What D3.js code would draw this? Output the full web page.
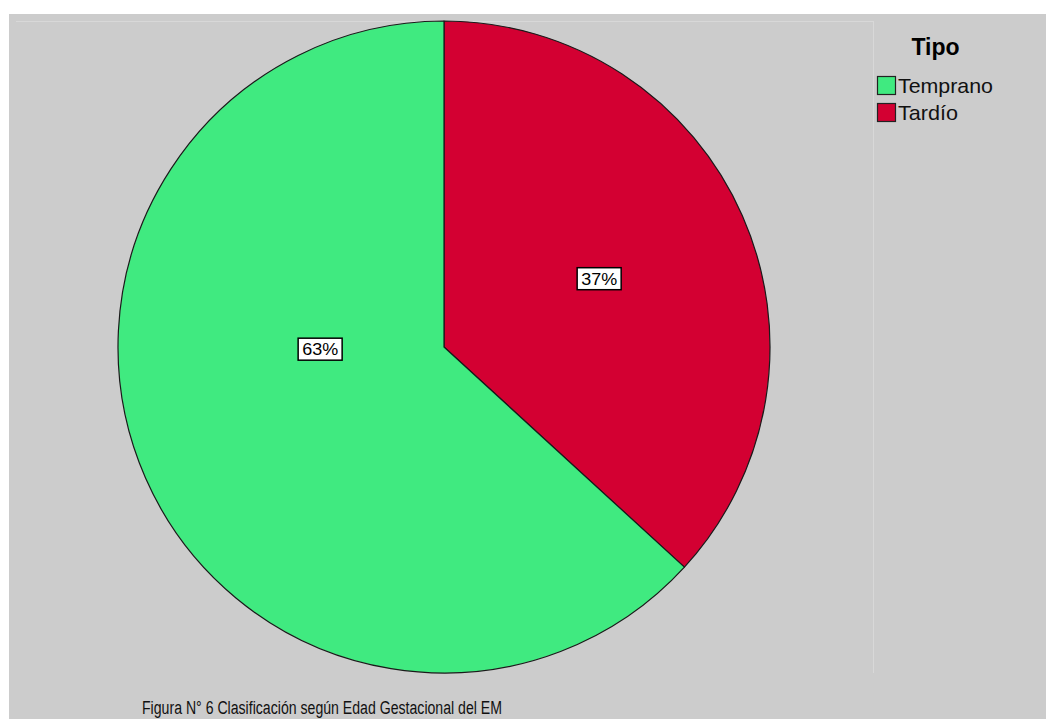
<!DOCTYPE html>
<html>
<head>
<meta charset="utf-8">
<script src="https://cdn.jsdelivr.net/npm/d3@7"></script>
<style>
html,body{margin:0;padding:0;background:#fff;}
svg{display:block;}
</style>
</head>
<body>
<svg id="chart" width="1046" height="719"></svg>
<script>
// ---- data ----
const categories = ["Temprano", "Tardío"];
const values = [63.2, 36.8];
const labels = ["63%", "37%"];
const colors = ["#40EA80", "#D30032"];
const legendTitle = "Tipo";
const caption = "Figura N° 6 Clasificación según Edad Gestacional del EM";

// ---- layout ----
const W = 1046, H = 719;
const svg = d3.select("#chart");
svg.append("rect").attr("x", 9).attr("y", 14).attr("width", W - 9).attr("height", H - 14).attr("fill", "#CCCCCC");
// light frame lines (top and right)
svg.append("line").attr("x1", 16).attr("x2", 874).attr("y1", 21.5).attr("y2", 21.5).attr("stroke", "#D8D8D8").attr("stroke-width", 1);
svg.append("line").attr("x1", 873.5).attr("x2", 873.5).attr("y1", 21).attr("y2", 673).attr("stroke", "#D8D8D8").attr("stroke-width", 1);

const cx = 444, cy = 347, R = 326;
const g = svg.append("g").attr("transform", `translate(${cx},${cy})`);

// Tardío starts at 12 o'clock going clockwise; Temprano fills the rest
const order = [1, 0];
const pie = d3.pie().sort(null).value(i => values[i]);
const arcs = pie(order);
const arc = d3.arc().innerRadius(0).outerRadius(R);

g.selectAll("path.slice").data(arcs).enter().append("path")
  .attr("class", "slice")
  .attr("d", arc)
  .attr("fill", d => colors[d.data])
  .attr("stroke", "#1a1a1a")
  .attr("stroke-width", 1.2)
  .attr("stroke-linejoin", "round");

// label placement (angle in fraction of the slice span, radius fraction)
const labelPlace = {0: {t: 0.6, r: 0.38}, 1: {t: 0.5, r: 0.52}};
arcs.forEach(d => {
  const p = labelPlace[d.data];
  const a = d.startAngle + (d.endAngle - d.startAngle) * p.t;
  const x = Math.sin(a) * R * p.r, y = -Math.cos(a) * R * p.r;
  const lg = g.append("g").attr("transform", `translate(${x},${y})`);
  const t = lg.append("text").attr("text-anchor", "middle").attr("dy", "0.36em")
    .attr("font-family", "Liberation Sans, Arial, sans-serif").attr("font-size", 17).attr("fill", "#000")
    .attr("textLength", 36).attr("lengthAdjust", "spacingAndGlyphs")
    .text(labels[d.data]);
  lg.insert("rect", "text").attr("x", -22).attr("y", -11).attr("width", 44).attr("height", 22)
    .attr("fill", "#fff").attr("stroke", "#000").attr("stroke-width", 1.5);
});

// legend
svg.append("text").attr("x", 935.5).attr("y", 55).attr("text-anchor", "middle")
  .attr("font-family", "Liberation Sans, Arial, sans-serif").attr("font-weight", "bold").attr("font-size", 23)
  .attr("fill", "#000").text(legendTitle);
const lgd = svg.append("g");
categories.forEach((c, i) => {
  const y = 76 + i * 27;
  lgd.append("rect").attr("x", 877.5).attr("y", y + 0.5).attr("width", 18).attr("height", 18)
    .attr("fill", colors[i]).attr("stroke", "#222").attr("stroke-width", 1.2);
  const t = lgd.append("text").attr("x", 898).attr("y", y + 17)
    .attr("font-family", "Liberation Sans, Arial, sans-serif").attr("font-size", 21)
    .attr("fill", "#111").text(c);
  if (i === 0) t.attr("textLength", 95).attr("lengthAdjust", "spacingAndGlyphs");
  else t.attr("textLength", 60).attr("lengthAdjust", "spacingAndGlyphs");
});

// caption
svg.append("text").attr("x", 142).attr("y", 714)
  .attr("font-family", "Liberation Sans, Arial, sans-serif").attr("font-size", 18)
  .attr("textLength", 360).attr("lengthAdjust", "spacingAndGlyphs")
  .attr("fill", "#111").text(caption);
</script>
</body>
</html>
